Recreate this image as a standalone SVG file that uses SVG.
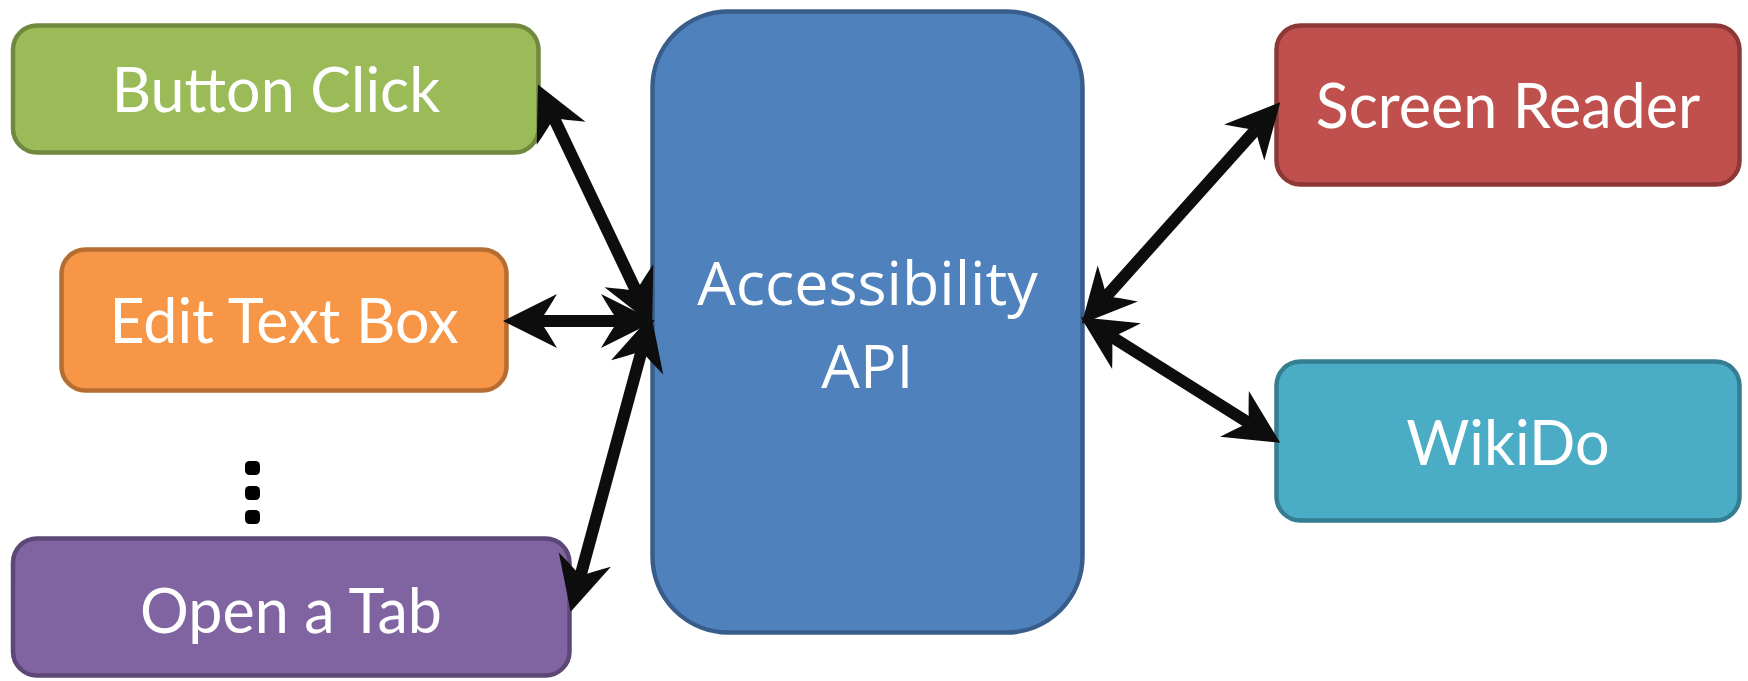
<svg xmlns="http://www.w3.org/2000/svg" width="1748" height="681" viewBox="0 0 1748 681">
  <defs>
    <style>
      .box { stroke-width: 4.5; }
      .lbl { font-family: Lato, "Liberation Sans", sans-serif; font-size: 61px; fill: #ffffff; text-anchor: middle; }
      .api { font-family: "Open Sans", "Noto Sans", sans-serif; font-size: 61px; fill: #ffffff; text-anchor: middle; }
      .link { stroke: #0d0d0d; stroke-width: 12; fill: none; marker-start: url(#head); marker-end: url(#head); }
    </style>
    <!-- notched arrowhead; tip lands 37px beyond the line end -->
    <marker id="head" viewBox="-55 -28 57 56" markerWidth="57" markerHeight="56" refX="-37" refY="0" markerUnits="userSpaceOnUse" orient="auto-start-reverse" overflow="visible">
      <path d="M0,0 L-54,-27 Q-44,-10 -37,0 Q-44,10 -54,27 Z" fill="#0d0d0d"/>
    </marker>
  </defs>
  <rect width="1748" height="681" fill="#ffffff"/>

  <g id="button-click">
    <rect class="box" x="13" y="25.5" width="525.5" height="127" rx="24" fill="#9bbb59" stroke="#71893f"/>
    <text class="lbl" x="276" y="112">Button Click</text>
  </g>

  <g id="edit-text-box">
    <rect class="box" x="61.5" y="249.5" width="445" height="141" rx="24" fill="#f79646" stroke="#b66d31"/>
    <text class="lbl" x="284" y="343">Edit Text Box</text>
  </g>

  <g id="more">
    <rect x="245" y="461" width="15" height="14" rx="4.5" fill="#000000"/>
    <rect x="245" y="486" width="15" height="14" rx="4.5" fill="#000000"/>
    <rect x="245" y="510" width="15" height="14" rx="4.5" fill="#000000"/>
  </g>

  <g id="open-a-tab">
    <rect class="box" x="13" y="538.5" width="556.5" height="137" rx="24" fill="#8064a2" stroke="#5c4776"/>
    <text class="lbl" x="291" y="633">Open a Tab</text>
  </g>

  <g id="accessibility-api">
    <rect class="box" x="652.5" y="11.5" width="430" height="621" rx="76" fill="#4f81bd" stroke="#385d8a"/>
    <text class="api" x="867.5" y="305">Accessibility</text>
    <text class="api" x="867.5" y="388">API</text>
  </g>

  <g id="screen-reader">
    <rect class="box" x="1276.5" y="25.5" width="463" height="159" rx="24" fill="#c0504d" stroke="#8c3836"/>
    <text class="lbl" x="1508" y="128">Screen Reader</text>
  </g>

  <g id="wikido">
    <rect class="box" x="1276.5" y="361.5" width="463" height="159" rx="24" fill="#4bacc6" stroke="#357d91"/>
    <text class="lbl" x="1508" y="465">WikiDo</text>
  </g>

  <g id="connectors">
    <line class="link" x1="553.8" y1="117.9" x2="636.2" y2="291.1"/>
    <line class="link" x1="540" y1="321" x2="618" y2="321"/>
    <line class="link" x1="580.4" y1="576.1" x2="641.6" y2="350.9"/>
    <line class="link" x1="1255.6" y1="129.8" x2="1106.4" y2="296.2"/>
    <line class="link" x1="1248.9" y1="423" x2="1112.1" y2="337"/>
  </g>
</svg>
